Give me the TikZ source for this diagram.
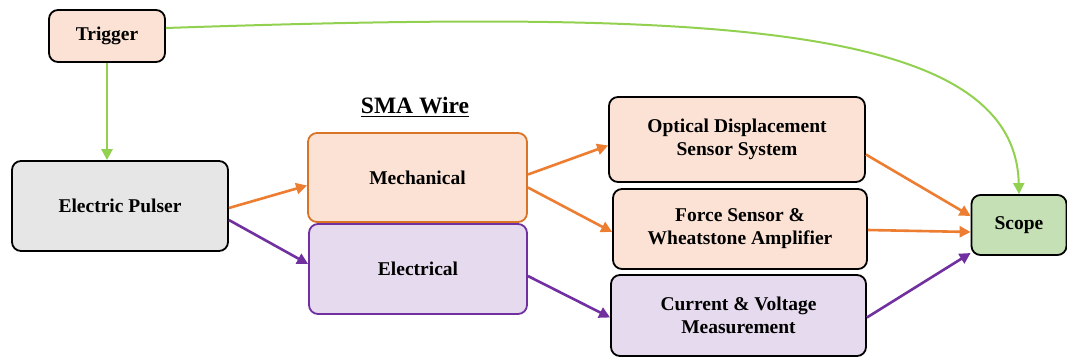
\documentclass[tikz,border=0pt]{standalone}
\usepackage{fontspec}
\setmainfont{Liberation Serif}
\usetikzlibrary{arrows.meta, positioning}
\definecolor{peach}{HTML}{FBE2D5}
\definecolor{lavender}{HTML}{E6DAEE}
\definecolor{greybg}{HTML}{E6E6E6}
\definecolor{scopebg}{HTML}{C5E0B4}
\definecolor{mechbd}{HTML}{D97326}
\definecolor{orangearr}{HTML}{ED7D31}
\definecolor{purplearr}{HTML}{7030A0}
\definecolor{greenarr}{HTML}{92D050}
\tikzset{
  blockbox/.style={
    draw=black, line width=1.8pt, rounded corners=9pt,
    align=center, font=\fontsize{19.5}{23}\selectfont\bfseries, inner sep=2pt
  },
  arr/.style={-{Triangle[length=11pt, width=11pt]}, line width=2.6pt}
}

\begin{document}
\begin{tikzpicture}[x=1pt, y=-1pt]
  \useasboundingbox (0,0) rectangle (1067,358);

  \node[blockbox, fill=peach, minimum width=116pt, minimum height=52pt] (trig) at (107,36) {Trigger};
  \node[blockbox, fill=greybg, minimum width=216pt, minimum height=90pt] (pulser) at (120,206) {Electric Pulser};

  \node[font=\fontsize{23.5}{26}\selectfont\bfseries] (sma) at (415,107) {\underline{SMA Wire}};
  \node[blockbox, draw=mechbd, fill=peach, minimum width=219pt, minimum height=89pt] (mech) at (417.5,177.5) {Mechanical};
  \node[blockbox, draw=purplearr, fill=lavender, minimum width=218pt, minimum height=90pt] (elec) at (418,269) {Electrical};

  \node[blockbox, fill=peach, minimum width=256pt, minimum height=85pt] (optic) at (737,139.5) {Optical Displacement\\Sensor System};
  \node[blockbox, fill=peach, minimum width=254pt, minimum height=80pt] (force) at (740,229) {Force Sensor \&\\Wheatstone Amplifier};
  \node[blockbox, fill=lavender, minimum width=255pt, minimum height=81pt] (meas) at (738.5,315.5) {Current \& Voltage\\Measurement};

  \node[blockbox, fill=scopebg, minimum width=95pt, minimum height=60pt] (scope) at (1019,225) {Scope};

  % trigger lines
  \draw[arr, greenarr] (trig.south) -- (pulser.north -| trig.south);
  \draw[arr, greenarr, line width=2pt] ([yshift=8pt]trig.east) .. controls (700,10) and (1015,20) .. (scope.north);

  % pulser to the wire
  \draw[arr, orangearr] ([yshift=-2pt]pulser.east) -- ([yshift=-8pt]mech.west);
  \draw[arr, purplearr] ([yshift=-14pt]pulser.east) -- ([yshift=5pt]elec.west);

  % wire to sensors
  \draw[arr, orangearr] ([yshift=3pt]mech.east) -- ([yshift=-6pt]optic.west);
  \draw[arr, orangearr] ([yshift=-10pt]mech.east) -- ([yshift=-3pt]force.west);
  \draw[arr, purplearr] ([yshift=-7pt]elec.east) -- ([yshift=-2pt]meas.west);

  % sensors to scope
  \draw[arr, orangearr] ([yshift=-15pt]optic.east) -- ([yshift=9pt]scope.west);
  \draw[arr, orangearr] ([yshift=-1pt]force.east) -- ([yshift=-7pt]scope.west);
  \draw[arr, purplearr] ([yshift=-2pt]meas.east) -- ([yshift=-28pt]scope.west);
\end{tikzpicture}
\end{document}
